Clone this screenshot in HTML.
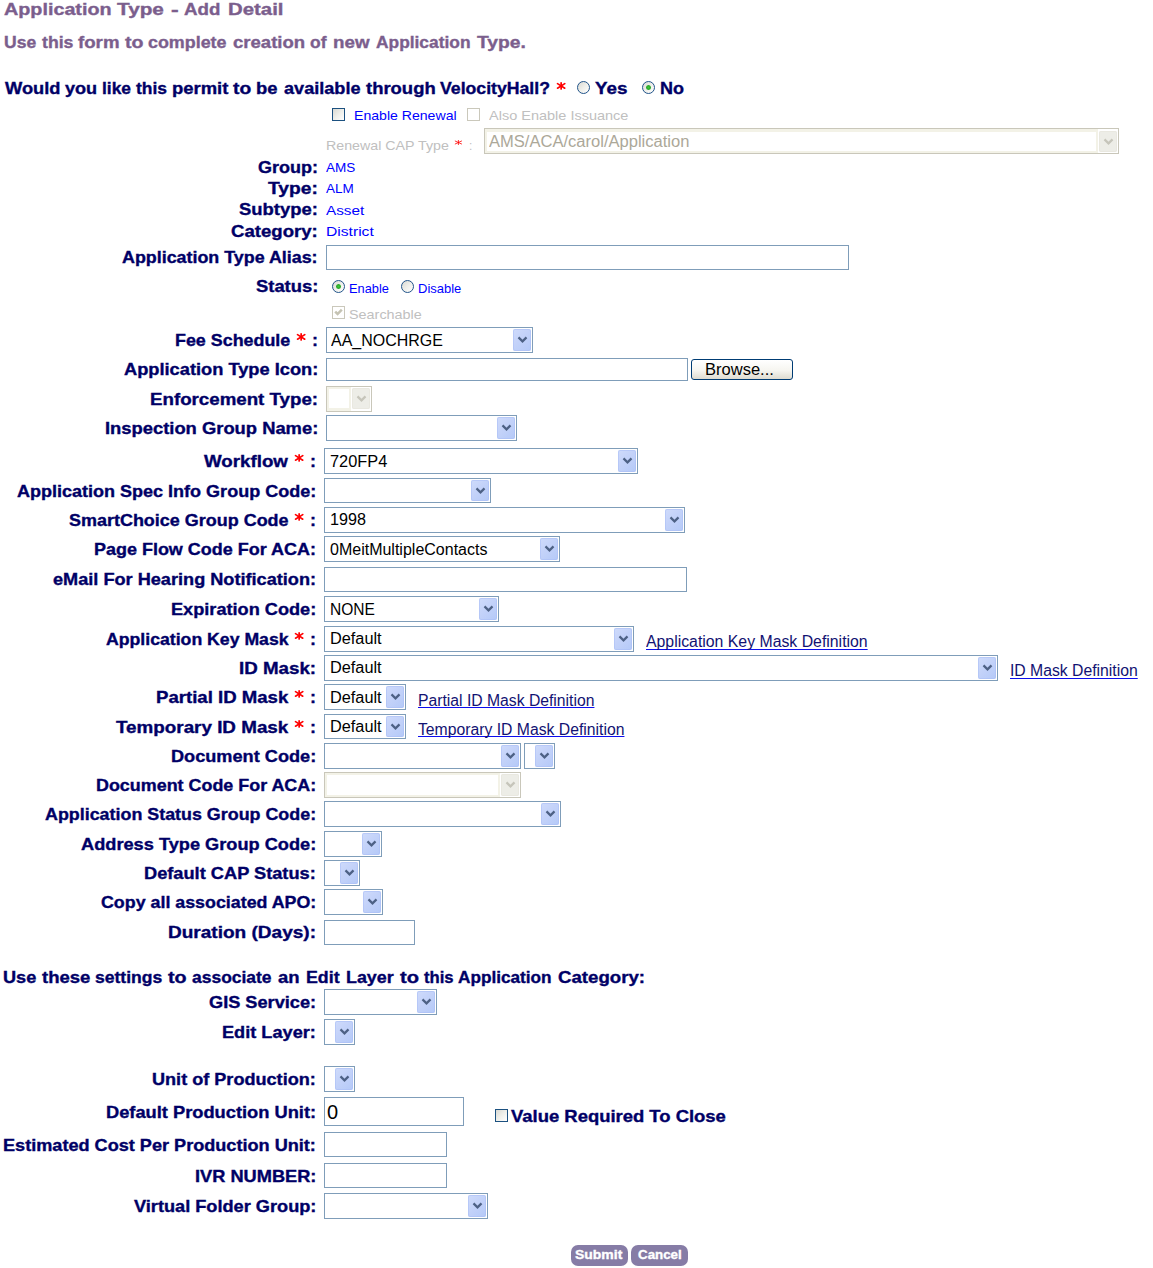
<!DOCTYPE html>
<html><head><meta charset="utf-8"><title>Application Type - Add Detail</title>
<style>
html,body{margin:0;padding:0;background:#fff;}
body{width:1153px;height:1268px;position:relative;overflow:hidden;font-family:"Liberation Sans",sans-serif;}
.t{position:absolute;white-space:nowrap;line-height:1;transform-origin:0 0;font-family:"Liberation Sans",sans-serif;}
.b{font-weight:bold;-webkit-text-stroke:0.35px currentColor;}
.sel{position:absolute;box-sizing:border-box;border:1px solid #7f9db9;background:#fff;}
.sel.dis{border:1px solid #c9c7ba;}
.sel.dis .fr{position:absolute;left:0;top:0;bottom:0;right:20px;border:2px solid #f3f2e7;box-sizing:border-box;background:#fff;}
.sel .btn{position:absolute;right:1px;top:1px;bottom:1px;width:18px;border-radius:2px;background:linear-gradient(135deg,#cfdbfb 0%,#c3d2f9 45%,#b4c9f8 100%);box-shadow:inset 0 0 0 1px rgba(170,190,245,.55);}
.sel.dis .btn{background:#ededE7;box-shadow:inset 0 0 0 1px #e9e8e0;}
.sel .btn svg{position:absolute;left:0;top:50%;margin-top:-5px;}
.inp{position:absolute;box-sizing:border-box;border:1px solid #7f9db9;background:#fff;}
.rad{position:absolute;width:13px;height:13px;box-sizing:border-box;border:1px solid #21548a;border-radius:50%;background:linear-gradient(135deg,#d9d9d3 0%,#efefea 50%,#ffffff 100%);}
.rad.on:after{content:"";position:absolute;left:3px;top:3px;width:5px;height:5px;border-radius:50%;background:radial-gradient(circle,#3fc93a 0%,#27a727 55%,rgba(39,167,39,0.25) 100%);}
.chk{position:absolute;width:13px;height:13px;box-sizing:border-box;border:1px solid #1c5180;background:linear-gradient(135deg,#d9d9d3 0%,#efefea 50%,#ffffff 100%);}
.chk.d{border-color:#cac8bb;background:#fff;}
.pill{position:absolute;height:21px;width:57px;border-radius:7px;background:#867ca6;}
.star{position:absolute;overflow:visible;}
</style></head>
<body>
<div class="sel dis" style="left:484px;top:128px;width:635px;height:26px"><span class="fr" style="border-top-width:3px;border-bottom-width:2px"></span><span class="btn" style="top:2px;bottom:1px"><svg width="18" height="10" viewBox="0 0 18 10"><path d="M5.5 2.4 L9.5 6.4 L13.5 2.4" fill="none" stroke="#c6c5ba" stroke-width="2.2" stroke-linejoin="miter"/></svg></span></div>
<div class="inp" style="left:326px;top:245px;width:523px;height:25px"></div>
<div class="sel" style="left:326px;top:327px;width:207px;height:26px"><span class="btn"><svg width="18" height="10" viewBox="0 0 18 10"><path d="M5.5 2.4 L9.5 6.4 L13.5 2.4" fill="none" stroke="#4d6185" stroke-width="2.2" stroke-linejoin="miter"/></svg></span></div>
<div class="inp" style="left:326px;top:358px;width:362px;height:23px"></div>
<div class="sel dis" style="left:326px;top:386px;width:46px;height:26px"><span class="fr" style="border-top-width:2px;border-bottom-width:3px"></span><span class="btn" style="top:1px;bottom:2px"><svg width="18" height="10" viewBox="0 0 18 10"><path d="M5.5 2.4 L9.5 6.4 L13.5 2.4" fill="none" stroke="#c6c5ba" stroke-width="2.2" stroke-linejoin="miter"/></svg></span></div>
<div class="sel" style="left:326px;top:415px;width:191px;height:26px"><span class="btn"><svg width="18" height="10" viewBox="0 0 18 10"><path d="M5.5 2.4 L9.5 6.4 L13.5 2.4" fill="none" stroke="#4d6185" stroke-width="2.2" stroke-linejoin="miter"/></svg></span></div>
<div class="sel" style="left:324px;top:448px;width:314px;height:26px"><span class="btn"><svg width="18" height="10" viewBox="0 0 18 10"><path d="M5.5 2.4 L9.5 6.4 L13.5 2.4" fill="none" stroke="#4d6185" stroke-width="2.2" stroke-linejoin="miter"/></svg></span></div>
<div class="sel" style="left:324px;top:478px;width:167px;height:25px"><span class="btn"><svg width="18" height="10" viewBox="0 0 18 10"><path d="M5.5 2.4 L9.5 6.4 L13.5 2.4" fill="none" stroke="#4d6185" stroke-width="2.2" stroke-linejoin="miter"/></svg></span></div>
<div class="sel" style="left:324px;top:507px;width:361px;height:26px"><span class="btn"><svg width="18" height="10" viewBox="0 0 18 10"><path d="M5.5 2.4 L9.5 6.4 L13.5 2.4" fill="none" stroke="#4d6185" stroke-width="2.2" stroke-linejoin="miter"/></svg></span></div>
<div class="sel" style="left:324px;top:536px;width:236px;height:26px"><span class="btn"><svg width="18" height="10" viewBox="0 0 18 10"><path d="M5.5 2.4 L9.5 6.4 L13.5 2.4" fill="none" stroke="#4d6185" stroke-width="2.2" stroke-linejoin="miter"/></svg></span></div>
<div class="inp" style="left:324px;top:567px;width:363px;height:25px"></div>
<div class="sel" style="left:324px;top:596px;width:175px;height:26px"><span class="btn"><svg width="18" height="10" viewBox="0 0 18 10"><path d="M5.5 2.4 L9.5 6.4 L13.5 2.4" fill="none" stroke="#4d6185" stroke-width="2.2" stroke-linejoin="miter"/></svg></span></div>
<div class="sel" style="left:324px;top:626px;width:310px;height:26px"><span class="btn"><svg width="18" height="10" viewBox="0 0 18 10"><path d="M5.5 2.4 L9.5 6.4 L13.5 2.4" fill="none" stroke="#4d6185" stroke-width="2.2" stroke-linejoin="miter"/></svg></span></div>
<div class="sel" style="left:324px;top:655px;width:674px;height:26px"><span class="btn"><svg width="18" height="10" viewBox="0 0 18 10"><path d="M5.5 2.4 L9.5 6.4 L13.5 2.4" fill="none" stroke="#4d6185" stroke-width="2.2" stroke-linejoin="miter"/></svg></span></div>
<div class="sel" style="left:324px;top:684px;width:82px;height:26px"><span class="btn"><svg width="18" height="10" viewBox="0 0 18 10"><path d="M5.5 2.4 L9.5 6.4 L13.5 2.4" fill="none" stroke="#4d6185" stroke-width="2.2" stroke-linejoin="miter"/></svg></span></div>
<div class="sel" style="left:324px;top:714px;width:82px;height:25px"><span class="btn"><svg width="18" height="10" viewBox="0 0 18 10"><path d="M5.5 2.4 L9.5 6.4 L13.5 2.4" fill="none" stroke="#4d6185" stroke-width="2.2" stroke-linejoin="miter"/></svg></span></div>
<div class="sel" style="left:324px;top:743px;width:197px;height:26px"><span class="btn"><svg width="18" height="10" viewBox="0 0 18 10"><path d="M5.5 2.4 L9.5 6.4 L13.5 2.4" fill="none" stroke="#4d6185" stroke-width="2.2" stroke-linejoin="miter"/></svg></span></div>
<div class="sel" style="left:524px;top:743px;width:31px;height:26px"><span class="btn"><svg width="18" height="10" viewBox="0 0 18 10"><path d="M5.5 2.4 L9.5 6.4 L13.5 2.4" fill="none" stroke="#4d6185" stroke-width="2.2" stroke-linejoin="miter"/></svg></span></div>
<div class="sel dis" style="left:324px;top:772px;width:197px;height:26px"><span class="fr" style="border-top-width:2px;border-bottom-width:2px"></span><span class="btn"><svg width="18" height="10" viewBox="0 0 18 10"><path d="M5.5 2.4 L9.5 6.4 L13.5 2.4" fill="none" stroke="#c6c5ba" stroke-width="2.2" stroke-linejoin="miter"/></svg></span></div>
<div class="sel" style="left:324px;top:801px;width:237px;height:26px"><span class="btn"><svg width="18" height="10" viewBox="0 0 18 10"><path d="M5.5 2.4 L9.5 6.4 L13.5 2.4" fill="none" stroke="#4d6185" stroke-width="2.2" stroke-linejoin="miter"/></svg></span></div>
<div class="sel" style="left:324px;top:831px;width:58px;height:26px"><span class="btn"><svg width="18" height="10" viewBox="0 0 18 10"><path d="M5.5 2.4 L9.5 6.4 L13.5 2.4" fill="none" stroke="#4d6185" stroke-width="2.2" stroke-linejoin="miter"/></svg></span></div>
<div class="sel" style="left:324px;top:860px;width:36px;height:26px"><span class="btn"><svg width="18" height="10" viewBox="0 0 18 10"><path d="M5.5 2.4 L9.5 6.4 L13.5 2.4" fill="none" stroke="#4d6185" stroke-width="2.2" stroke-linejoin="miter"/></svg></span></div>
<div class="sel" style="left:324px;top:889px;width:59px;height:26px"><span class="btn"><svg width="18" height="10" viewBox="0 0 18 10"><path d="M5.5 2.4 L9.5 6.4 L13.5 2.4" fill="none" stroke="#4d6185" stroke-width="2.2" stroke-linejoin="miter"/></svg></span></div>
<div class="inp" style="left:324px;top:920px;width:91px;height:25px"></div>
<div class="sel" style="left:324px;top:989px;width:113px;height:26px"><span class="btn"><svg width="18" height="10" viewBox="0 0 18 10"><path d="M5.5 2.4 L9.5 6.4 L13.5 2.4" fill="none" stroke="#4d6185" stroke-width="2.2" stroke-linejoin="miter"/></svg></span></div>
<div class="sel" style="left:324px;top:1019px;width:31px;height:26px"><span class="btn"><svg width="18" height="10" viewBox="0 0 18 10"><path d="M5.5 2.4 L9.5 6.4 L13.5 2.4" fill="none" stroke="#4d6185" stroke-width="2.2" stroke-linejoin="miter"/></svg></span></div>
<div class="sel" style="left:324px;top:1066px;width:31px;height:26px"><span class="btn"><svg width="18" height="10" viewBox="0 0 18 10"><path d="M5.5 2.4 L9.5 6.4 L13.5 2.4" fill="none" stroke="#4d6185" stroke-width="2.2" stroke-linejoin="miter"/></svg></span></div>
<div class="inp" style="left:324px;top:1097px;width:140px;height:29px"></div>
<div class="inp" style="left:324px;top:1132px;width:123px;height:25px"></div>
<div class="inp" style="left:324px;top:1163px;width:123px;height:25px"></div>
<div class="sel" style="left:324px;top:1193px;width:164px;height:26px"><span class="btn"><svg width="18" height="10" viewBox="0 0 18 10"><path d="M5.5 2.4 L9.5 6.4 L13.5 2.4" fill="none" stroke="#4d6185" stroke-width="2.2" stroke-linejoin="miter"/></svg></span></div>
<div style="position:absolute;left:691px;top:359px;width:102px;height:21px;box-sizing:border-box;border:1px solid #003c74;border-radius:3px;background:linear-gradient(#ffffff 0%,#f6f5f0 55%,#dedbd0 100%)"></div>
<div class="pill" style="left:571px;top:1245px"></div>
<div class="pill" style="left:631px;top:1245px"></div>
<span class="rad" style="left:577px;top:81px"></span>
<span class="rad on" style="left:642px;top:81px"></span>
<span class="rad on" style="left:332px;top:280px"></span>
<span class="rad" style="left:401px;top:280px"></span>
<span class="chk" style="left:332px;top:108px"></span>
<span class="chk d" style="left:467px;top:108px"></span>
<span class="chk d" style="left:332px;top:306px"><svg width="11" height="11" viewBox="0 0 11 11" style="position:absolute;left:0;top:0"><path d="M2.2 4.6 L4.6 7 L8.8 2.6" stroke="#c5c3b3" stroke-width="2.5" fill="none"/></svg></span>
<span class="chk" style="left:495px;top:1109px"></span>
<svg class="star" style="left:557.45px;top:82.10px" width="8.3" height="7.8" viewBox="-4.15 -3.90 8.3 7.8"><g stroke="#ff0000" stroke-width="1.70" stroke-linecap="round"><line x1="0" y1="-3.05" x2="0" y2="3.05"/><line x1="-3.64" y1="-2.26" x2="3.64" y2="2.26"/><line x1="-3.64" y1="2.26" x2="3.64" y2="-2.26"/></g></svg>
<svg class="star" style="left:455.20px;top:140.00px" width="6.8" height="5.0" viewBox="-3.40 -2.50 6.8 5.0"><g stroke="#ff0000" stroke-width="0.80" stroke-linecap="round"><line x1="0" y1="-2.10" x2="0" y2="2.10"/><line x1="-3.16" y1="-1.45" x2="3.16" y2="1.45"/><line x1="-3.16" y1="1.45" x2="3.16" y2="-1.45"/></g></svg>
<svg class="star" style="left:297.15px;top:333.10px" width="8.3" height="7.8" viewBox="-4.15 -3.90 8.3 7.8"><g stroke="#ff0000" stroke-width="1.70" stroke-linecap="round"><line x1="0" y1="-3.05" x2="0" y2="3.05"/><line x1="-3.64" y1="-2.26" x2="3.64" y2="2.26"/><line x1="-3.64" y1="2.26" x2="3.64" y2="-2.26"/></g></svg>
<svg class="star" style="left:295.25px;top:454.10px" width="8.3" height="7.8" viewBox="-4.15 -3.90 8.3 7.8"><g stroke="#ff0000" stroke-width="1.70" stroke-linecap="round"><line x1="0" y1="-3.05" x2="0" y2="3.05"/><line x1="-3.64" y1="-2.26" x2="3.64" y2="2.26"/><line x1="-3.64" y1="2.26" x2="3.64" y2="-2.26"/></g></svg>
<svg class="star" style="left:295.25px;top:513.10px" width="8.3" height="7.8" viewBox="-4.15 -3.90 8.3 7.8"><g stroke="#ff0000" stroke-width="1.70" stroke-linecap="round"><line x1="0" y1="-3.05" x2="0" y2="3.05"/><line x1="-3.64" y1="-2.26" x2="3.64" y2="2.26"/><line x1="-3.64" y1="2.26" x2="3.64" y2="-2.26"/></g></svg>
<svg class="star" style="left:295.25px;top:632.10px" width="8.3" height="7.8" viewBox="-4.15 -3.90 8.3 7.8"><g stroke="#ff0000" stroke-width="1.70" stroke-linecap="round"><line x1="0" y1="-3.05" x2="0" y2="3.05"/><line x1="-3.64" y1="-2.26" x2="3.64" y2="2.26"/><line x1="-3.64" y1="2.26" x2="3.64" y2="-2.26"/></g></svg>
<svg class="star" style="left:295.25px;top:690.10px" width="8.3" height="7.8" viewBox="-4.15 -3.90 8.3 7.8"><g stroke="#ff0000" stroke-width="1.70" stroke-linecap="round"><line x1="0" y1="-3.05" x2="0" y2="3.05"/><line x1="-3.64" y1="-2.26" x2="3.64" y2="2.26"/><line x1="-3.64" y1="2.26" x2="3.64" y2="-2.26"/></g></svg>
<svg class="star" style="left:295.25px;top:720.10px" width="8.3" height="7.8" viewBox="-4.15 -3.90 8.3 7.8"><g stroke="#ff0000" stroke-width="1.70" stroke-linecap="round"><line x1="0" y1="-3.05" x2="0" y2="3.05"/><line x1="-3.64" y1="-2.26" x2="3.64" y2="2.26"/><line x1="-3.64" y1="2.26" x2="3.64" y2="-2.26"/></g></svg>
<span class="t b" style="left:3.71px;top:1.00px;font-size:16.50px;color:#7b5e8d;transform:scaleX(1.1975)">Application</span>
<span class="t b" style="left:117.27px;top:1.00px;font-size:16.50px;color:#7b5e8d;transform:scaleX(1.2571)">Type</span>
<span class="t b" style="left:171.36px;top:1.00px;font-size:16.50px;color:#7b5e8d;transform:scaleX(1.3973)">-</span>
<span class="t b" style="left:184.06px;top:1.00px;font-size:16.50px;color:#7b5e8d;transform:scaleX(1.1343)">Add</span>
<span class="t b" style="left:227.68px;top:1.00px;font-size:16.50px;color:#7b5e8d;transform:scaleX(1.2347)">Detail</span>
<span class="t b" style="left:4.21px;top:34.00px;font-size:16.50px;color:#7b5e8d;transform:scaleX(1.0629)">Use</span>
<span class="t b" style="left:41.71px;top:34.00px;font-size:16.50px;color:#7b5e8d;transform:scaleX(1.0696)">this</span>
<span class="t b" style="left:77.86px;top:34.00px;font-size:16.50px;color:#7b5e8d;transform:scaleX(1.1312)">form</span>
<span class="t b" style="left:124.52px;top:34.00px;font-size:16.50px;color:#7b5e8d;transform:scaleX(1.1866)">to</span>
<span class="t b" style="left:148.30px;top:34.00px;font-size:16.50px;color:#7b5e8d;transform:scaleX(1.0835)">complete</span>
<span class="t b" style="left:232.77px;top:34.00px;font-size:16.50px;color:#7b5e8d;transform:scaleX(1.1230)">creation</span>
<span class="t b" style="left:310.41px;top:34.00px;font-size:16.50px;color:#7b5e8d;transform:scaleX(1.0582)">of</span>
<span class="t b" style="left:332.86px;top:34.00px;font-size:16.50px;color:#7b5e8d;transform:scaleX(1.1368)">new</span>
<span class="t b" style="left:376.12px;top:34.00px;font-size:16.50px;color:#7b5e8d;transform:scaleX(1.0517)">Application</span>
<span class="t b" style="left:476.53px;top:34.00px;font-size:16.50px;color:#7b5e8d;transform:scaleX(1.1674)">Type.</span>
<span class="t b" style="left:5.18px;top:80.00px;font-size:16.50px;color:#000066;transform:scaleX(1.1073)">Would</span>
<span class="t b" style="left:64.69px;top:80.00px;font-size:16.50px;color:#000066;transform:scaleX(1.0968)">you</span>
<span class="t b" style="left:101.62px;top:80.00px;font-size:16.50px;color:#000066;transform:scaleX(1.0528)">like</span>
<span class="t b" style="left:135.82px;top:80.00px;font-size:16.50px;color:#000066;transform:scaleX(1.0559)">this</span>
<span class="t b" style="left:172.07px;top:80.00px;font-size:16.50px;color:#000066;transform:scaleX(1.1179)">permit</span>
<span class="t b" style="left:233.43px;top:80.00px;font-size:16.50px;color:#000066;transform:scaleX(1.1673)">to</span>
<span class="t b" style="left:256.47px;top:80.00px;font-size:16.50px;color:#000066;transform:scaleX(1.1152)">be</span>
<span class="t b" style="left:284.19px;top:80.00px;font-size:16.50px;color:#000066;transform:scaleX(1.0971)">available</span>
<span class="t b" style="left:365.87px;top:80.00px;font-size:16.50px;color:#000066;transform:scaleX(1.1183)">through</span>
<span class="t b" style="left:440.30px;top:80.00px;font-size:16.50px;color:#000066;transform:scaleX(1.0707)">VelocityHall?</span>
<span class="t b" style="left:594.90px;top:80.00px;font-size:16.50px;color:#000066;transform:scaleX(1.1399)">Yes</span>
<span class="t b" style="left:660.19px;top:80.00px;font-size:16.50px;color:#000066;transform:scaleX(1.0902)">No</span>
<span class="t" style="left:353.77px;top:109.00px;font-size:13.40px;color:#0000ff;transform:scaleX(1.0520)">Enable Renewal</span>
<span class="t" style="left:488.75px;top:109.00px;font-size:13.40px;color:#c0c0c0;transform:scaleX(1.0825)">Also Enable Issuance</span>
<span class="t" style="left:326.11px;top:139.00px;font-size:13.40px;color:#c0c0c0;transform:scaleX(1.0625)">Renewal CAP Type</span>
<span class="t" style="left:469.37px;top:139.00px;font-size:13.40px;color:#c0c0c0;transform:scaleX(0.8853)">:</span>
<span class="t" style="left:325.79px;top:161.00px;font-size:13.40px;color:#0000ff;transform:scaleX(1.0095)">AMS</span>
<span class="t" style="left:325.79px;top:182.00px;font-size:13.40px;color:#0000ff;transform:scaleX(1.0094)">ALM</span>
<span class="t" style="left:325.71px;top:204.00px;font-size:13.40px;color:#0000ff;transform:scaleX(1.1435)">Asset</span>
<span class="t" style="left:325.70px;top:225.00px;font-size:13.40px;color:#0000ff;transform:scaleX(1.1682)">District</span>
<span class="t" style="left:348.95px;top:308.00px;font-size:13.40px;color:#c0c0c0;transform:scaleX(1.0746)">Searchable</span>
<span class="t" style="left:349.02px;top:282.00px;font-size:13.60px;color:#0000ff;transform:scaleX(0.9432)">Enable</span>
<span class="t" style="left:418.02px;top:282.00px;font-size:13.60px;color:#0000ff;transform:scaleX(0.9555)">Disable</span>
<span class="t b" style="left:257.99px;top:159.00px;font-size:16.50px;color:#000066;transform:scaleX(1.0906)">Group:</span>
<span class="t b" style="left:268.14px;top:180.00px;font-size:16.50px;color:#000066;transform:scaleX(1.1637)">Type:</span>
<span class="t b" style="left:239.17px;top:201.00px;font-size:16.50px;color:#000066;transform:scaleX(1.1160)">Subtype:</span>
<span class="t b" style="left:231.16px;top:223.00px;font-size:16.50px;color:#000066;transform:scaleX(1.1268)">Category:</span>
<span class="t b" style="left:122.45px;top:249.00px;font-size:16.50px;color:#000066;transform:scaleX(1.0826)">Application Type Alias:</span>
<span class="t b" style="left:255.67px;top:278.00px;font-size:16.50px;color:#000066;transform:scaleX(1.1138)">Status:</span>
<span class="t b" style="left:174.95px;top:332.00px;font-size:16.50px;color:#000066;transform:scaleX(1.0833)">Fee Schedule</span>
<span class="t b" style="left:311.79px;top:332.00px;font-size:16.50px;color:#000066;transform:scaleX(1.0882)">:</span>
<span class="t b" style="left:123.68px;top:361.00px;font-size:16.50px;color:#000066;transform:scaleX(1.1058)">Application Type Icon:</span>
<span class="t b" style="left:149.91px;top:391.00px;font-size:16.50px;color:#000066;transform:scaleX(1.1337)">Enforcement Type:</span>
<span class="t b" style="left:104.67px;top:420.00px;font-size:16.50px;color:#000066;transform:scaleX(1.1131)">Inspection Group Name:</span>
<span class="t b" style="left:204.36px;top:453.00px;font-size:16.50px;color:#000066;transform:scaleX(1.1343)">Workflow</span>
<span class="t b" style="left:309.89px;top:453.00px;font-size:16.50px;color:#000066;transform:scaleX(1.0882)">:</span>
<span class="t b" style="left:16.89px;top:483.00px;font-size:16.50px;color:#000066;transform:scaleX(1.0915)">Application Spec Info Group Code:</span>
<span class="t b" style="left:68.69px;top:512.00px;font-size:16.50px;color:#000066;transform:scaleX(1.0887)">SmartChoice Group Code</span>
<span class="t b" style="left:309.89px;top:512.00px;font-size:16.50px;color:#000066;transform:scaleX(1.0882)">:</span>
<span class="t b" style="left:94.19px;top:541.00px;font-size:16.50px;color:#000066;transform:scaleX(1.0887)">Page Flow Code For ACA:</span>
<span class="t b" style="left:52.98px;top:571.00px;font-size:16.50px;color:#000066;transform:scaleX(1.0995)">eMail For Hearing Notification:</span>
<span class="t b" style="left:170.88px;top:601.00px;font-size:16.50px;color:#000066;transform:scaleX(1.0998)">Expiration Code:</span>
<span class="t b" style="left:105.71px;top:631.00px;font-size:16.50px;color:#000066;transform:scaleX(1.0706)">Application Key Mask</span>
<span class="t b" style="left:309.89px;top:631.00px;font-size:16.50px;color:#000066;transform:scaleX(1.0882)">:</span>
<span class="t b" style="left:238.96px;top:660.00px;font-size:16.50px;color:#000066;transform:scaleX(1.1360)">ID Mask:</span>
<span class="t b" style="left:155.96px;top:689.00px;font-size:16.50px;color:#000066;transform:scaleX(1.1269)">Partial ID Mask</span>
<span class="t b" style="left:309.89px;top:689.00px;font-size:16.50px;color:#000066;transform:scaleX(1.0882)">:</span>
<span class="t b" style="left:115.95px;top:719.00px;font-size:16.50px;color:#000066;transform:scaleX(1.1410)">Temporary ID Mask</span>
<span class="t b" style="left:309.89px;top:719.00px;font-size:16.50px;color:#000066;transform:scaleX(1.0882)">:</span>
<span class="t b" style="left:170.88px;top:748.00px;font-size:16.50px;color:#000066;transform:scaleX(1.0999)">Document Code:</span>
<span class="t b" style="left:95.89px;top:777.00px;font-size:16.50px;color:#000066;transform:scaleX(1.0852)">Document Code For ACA:</span>
<span class="t b" style="left:45.00px;top:806.00px;font-size:16.50px;color:#000066;transform:scaleX(1.0833)">Application Status Group Code:</span>
<span class="t b" style="left:80.78px;top:836.00px;font-size:16.50px;color:#000066;transform:scaleX(1.1030)">Address Type Group Code:</span>
<span class="t b" style="left:144.28px;top:865.00px;font-size:16.50px;color:#000066;transform:scaleX(1.1043)">Default CAP Status:</span>
<span class="t b" style="left:100.80px;top:894.00px;font-size:16.50px;color:#000066;transform:scaleX(1.0803)">Copy all associated APO:</span>
<span class="t b" style="left:168.04px;top:924.00px;font-size:16.50px;color:#000066;transform:scaleX(1.1530)">Duration (Days):</span>
<span class="t b" style="left:3.18px;top:969.00px;font-size:16.50px;color:#000066;transform:scaleX(1.0992)">Use</span>
<span class="t b" style="left:41.57px;top:969.00px;font-size:16.50px;color:#000066;transform:scaleX(1.1224)">these</span>
<span class="t b" style="left:95.11px;top:969.00px;font-size:16.50px;color:#000066;transform:scaleX(1.0635)">settings</span>
<span class="t b" style="left:168.01px;top:969.00px;font-size:16.50px;color:#000066;transform:scaleX(1.1930)">to</span>
<span class="t b" style="left:192.41px;top:969.00px;font-size:16.50px;color:#000066;transform:scaleX(1.0580)">associate</span>
<span class="t b" style="left:278.17px;top:969.00px;font-size:16.50px;color:#000066;transform:scaleX(1.1204)">an</span>
<span class="t b" style="left:306.10px;top:969.00px;font-size:16.50px;color:#000066;transform:scaleX(1.0774)">Edit</span>
<span class="t b" style="left:346.00px;top:969.00px;font-size:16.50px;color:#000066;transform:scaleX(1.0830)">Layer</span>
<span class="t b" style="left:399.60px;top:969.00px;font-size:16.50px;color:#000066;transform:scaleX(1.2187)">to</span>
<span class="t b" style="left:423.55px;top:969.00px;font-size:16.50px;color:#000066;transform:scaleX(1.0082)">this</span>
<span class="t b" style="left:458.43px;top:969.00px;font-size:16.50px;color:#000066;transform:scaleX(1.0416)">Application</span>
<span class="t b" style="left:558.26px;top:969.00px;font-size:16.50px;color:#000066;transform:scaleX(1.1294)">Category:</span>
<span class="t b" style="left:208.98px;top:994.00px;font-size:16.50px;color:#000066;transform:scaleX(1.1013)">GIS Service:</span>
<span class="t b" style="left:222.18px;top:1024.00px;font-size:16.50px;color:#000066;transform:scaleX(1.1009)">Edit Layer:</span>
<span class="t b" style="left:152.29px;top:1071.00px;font-size:16.50px;color:#000066;transform:scaleX(1.0964)">Unit of Production:</span>
<span class="t b" style="left:105.98px;top:1104.00px;font-size:16.50px;color:#000066;transform:scaleX(1.1073)">Default Production Unit:</span>
<span class="t b" style="left:3.19px;top:1137.00px;font-size:16.50px;color:#000066;transform:scaleX(1.0974)">Estimated Cost Per Production Unit:</span>
<span class="t b" style="left:194.68px;top:1168.00px;font-size:16.50px;color:#000066;transform:scaleX(1.1035)">IVR NUMBER:</span>
<span class="t b" style="left:133.68px;top:1198.00px;font-size:16.50px;color:#000066;transform:scaleX(1.1012)">Virtual Folder Group:</span>
<span class="t b" style="left:511.47px;top:1108.00px;font-size:16.50px;color:#000066;transform:scaleX(1.1177)">Value Required To Close</span>
<span class="t" style="left:646.09px;top:634.00px;font-size:16.00px;color:#121272;text-decoration:underline;text-underline-offset:1.5px;text-decoration-thickness:1px;text-decoration-skip-ink:none;text-decoration-color:#0c0cee;transform:scaleX(0.9890)">Application Key Mask Definition</span>
<span class="t" style="left:1009.99px;top:663.00px;font-size:16.00px;color:#121272;text-decoration:underline;text-underline-offset:1.5px;text-decoration-thickness:1px;text-decoration-skip-ink:none;text-decoration-color:#0c0cee;transform:scaleX(0.9839)">ID Mask Definition</span>
<span class="t" style="left:418.29px;top:693.00px;font-size:16.00px;color:#121272;text-decoration:underline;text-underline-offset:0.5px;text-decoration-thickness:1px;text-decoration-skip-ink:none;text-decoration-color:#0c0cee;transform:scaleX(0.9823)">Partial ID Mask Definition</span>
<span class="t" style="left:418.29px;top:722.00px;font-size:16.00px;color:#121272;text-decoration:underline;text-underline-offset:0.5px;text-decoration-thickness:1px;text-decoration-skip-ink:none;text-decoration-color:#0c0cee;transform:scaleX(0.9838)">Temporary ID Mask Definition</span>
<span class="t" style="left:489.46px;top:134.00px;font-size:16.00px;color:#aca899;transform:scaleX(1.0339)">AMS/ACA/carol/Application</span>
<span class="t" style="left:331.28px;top:333.00px;font-size:16.00px;color:#000;transform:scaleX(0.9983)">AA_NOCHRGE</span>
<span class="t" style="left:329.76px;top:454.00px;font-size:16.00px;color:#000;transform:scaleX(1.0213)">720FP4</span>
<span class="t" style="left:330.47px;top:512.00px;font-size:16.00px;color:#000;transform:scaleX(1.0097)">1998</span>
<span class="t" style="left:329.58px;top:542.00px;font-size:16.00px;color:#000;transform:scaleX(1.0002)">0MeitMultipleContacts</span>
<span class="t" style="left:330.00px;top:602.00px;font-size:16.00px;color:#000;transform:scaleX(0.9720)">NONE</span>
<span class="t" style="left:329.97px;top:631.00px;font-size:16.00px;color:#000;transform:scaleX(1.0185)">Default</span>
<span class="t" style="left:329.97px;top:660.00px;font-size:16.00px;color:#000;transform:scaleX(1.0185)">Default</span>
<span class="t" style="left:329.97px;top:690.00px;font-size:16.00px;color:#000;transform:scaleX(1.0185)">Default</span>
<span class="t" style="left:329.97px;top:719.00px;font-size:16.00px;color:#000;transform:scaleX(1.0185)">Default</span>
<span class="t" style="left:326.80px;top:1102.00px;font-size:20.50px;color:#000;transform:scaleX(0.9771)">0</span>
<span class="t" style="left:705.06px;top:362.00px;font-size:16.00px;color:#000;transform:scaleX(1.0323)">Browse...</span>
<span class="t b" style="left:575.37px;top:1249.00px;font-size:12.60px;color:#fff;transform:scaleX(1.1088)">Submit</span>
<span class="t b" style="left:637.90px;top:1249.00px;font-size:12.60px;color:#fff;transform:scaleX(1.0586)">Cancel</span>
</body></html>
